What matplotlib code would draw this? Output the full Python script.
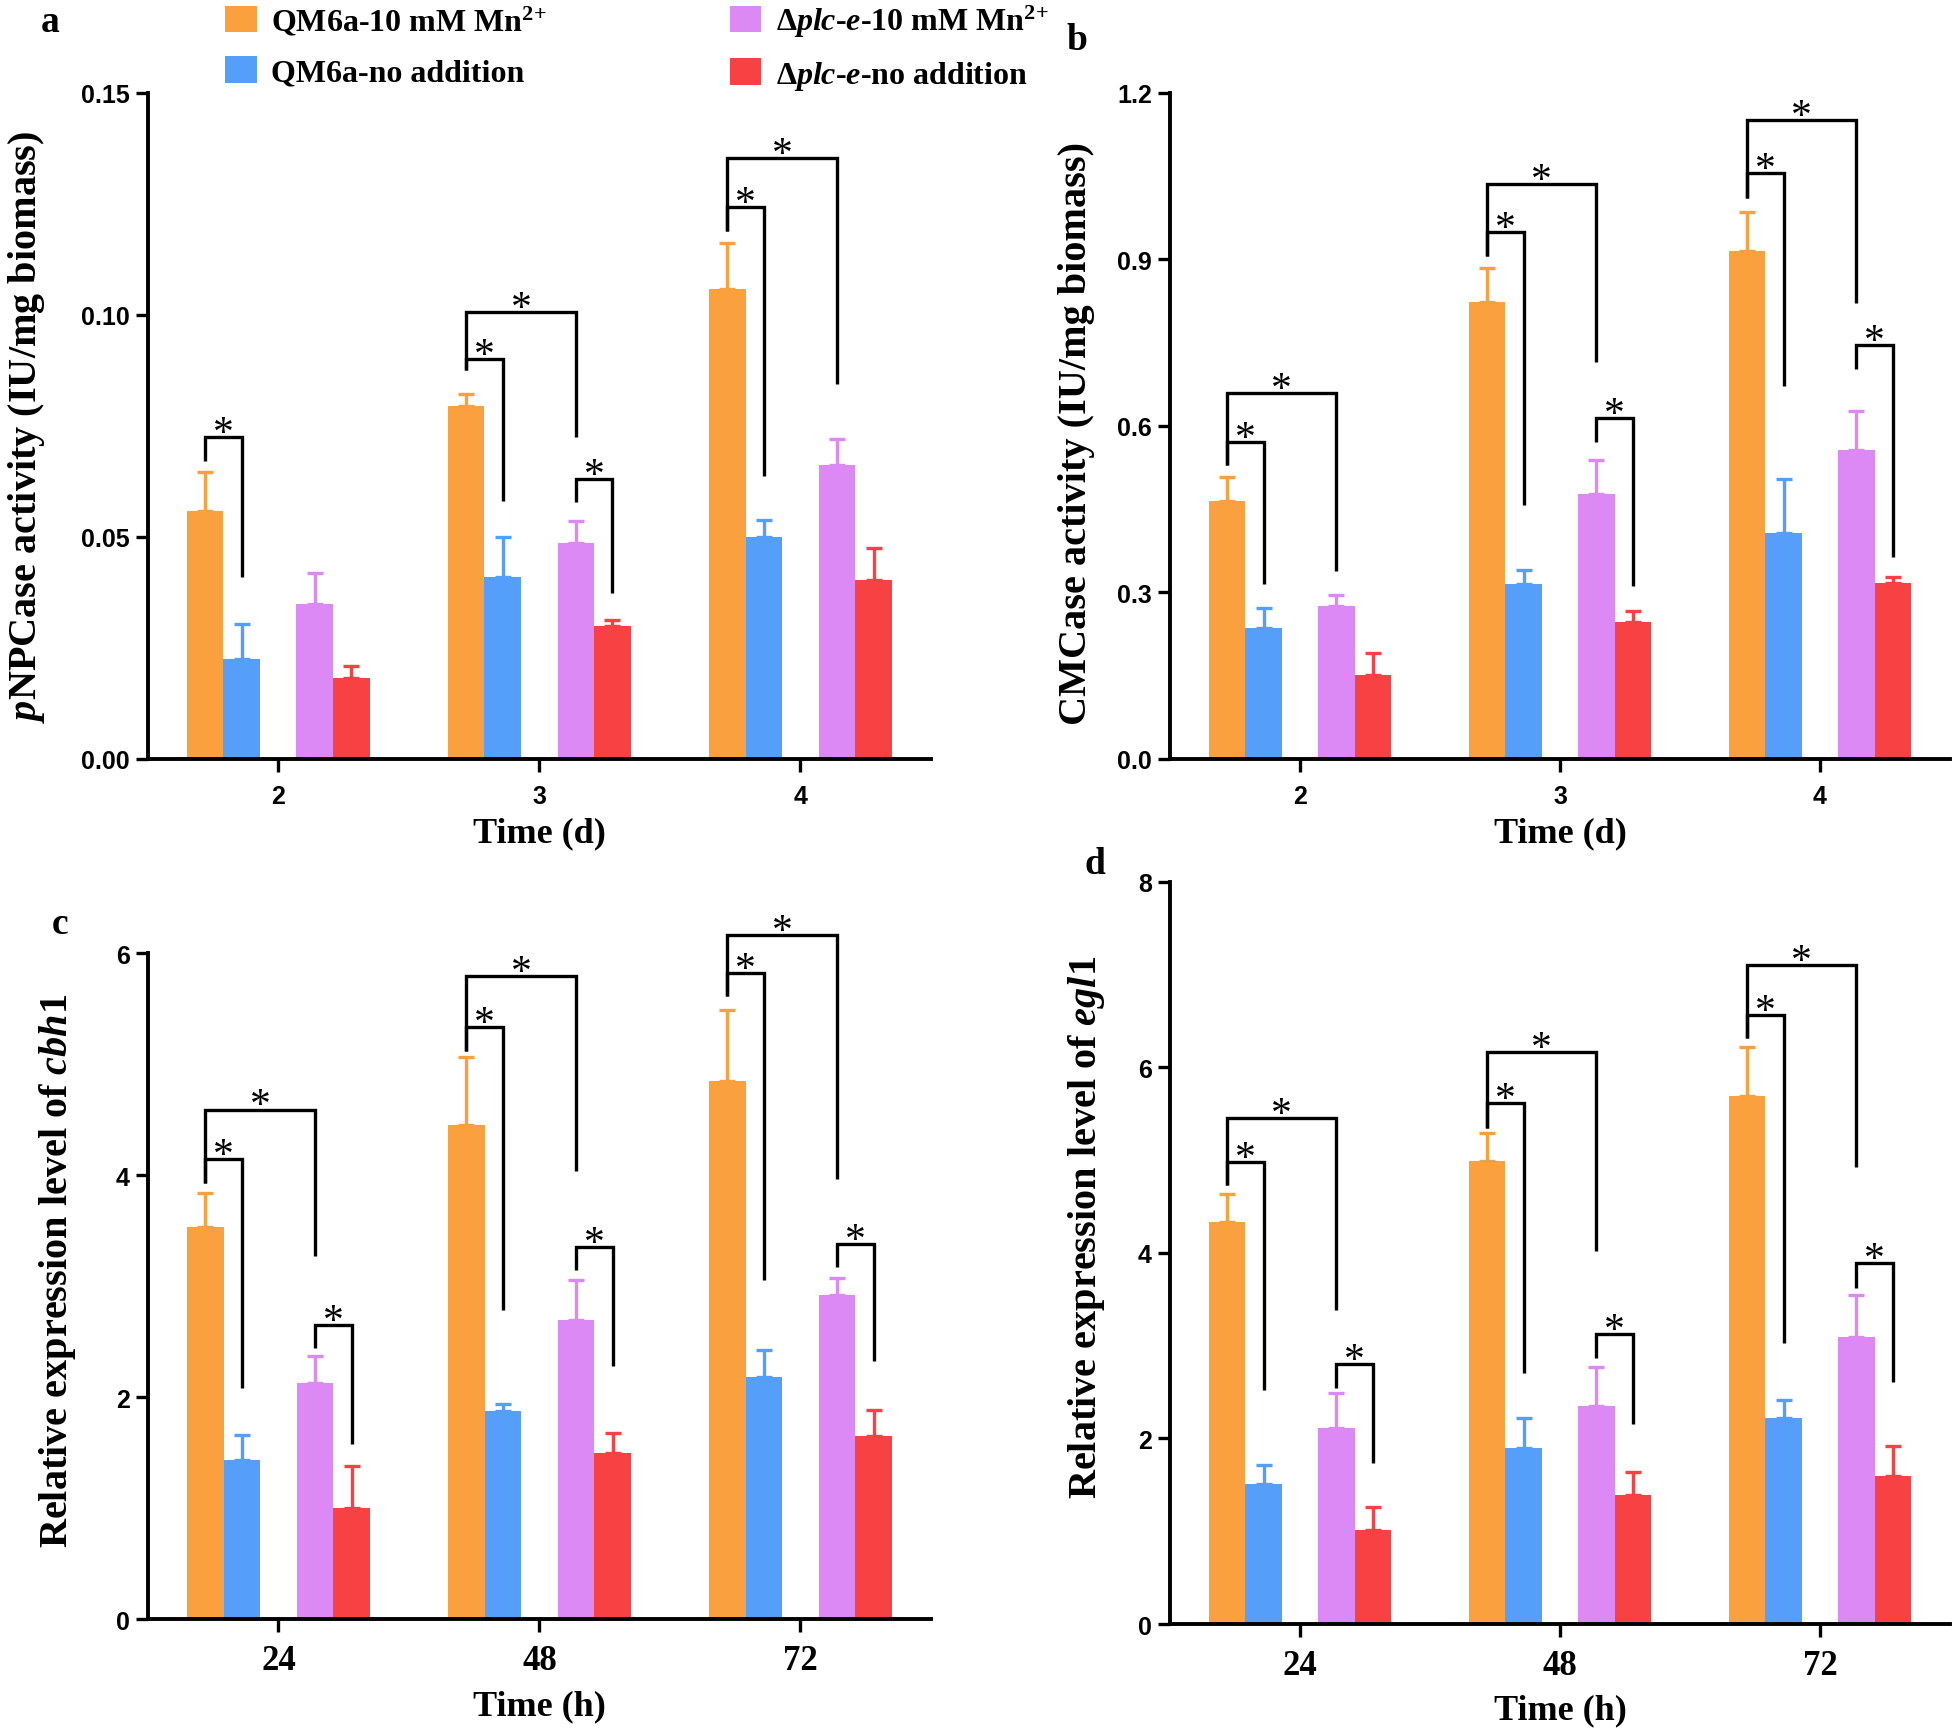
import numpy as np
import matplotlib
matplotlib.use("Agg")
import matplotlib.pyplot as plt
from matplotlib.patches import Patch

plt.rcParams['mathtext.fontset'] = 'custom'
plt.rcParams['mathtext.rm'] = 'Liberation Serif:bold'
plt.rcParams['mathtext.it'] = 'Liberation Serif:italic:bold'
plt.rcParams['mathtext.bf'] = 'Liberation Serif:bold'

# ---------------- data ----------------
series_labels = ["QM6a-10 mM Mn$^{2\\!+}$", "QM6a-no addition",
                 "Δ$\\mathit{plc}$-$\\mathit{e}$-10 mM Mn$^{2\\!+}$",
                 "Δ$\\mathit{plc}$-$\\mathit{e}$-no addition"]
series_colors = ["#FBA03F", "#559FFA", "#DC89F5", "#F84143"]

days = ["2", "3", "4"]
hours = ["24", "48", "72"]

# panel a: pNPCase activity
a_orange = [0.0558, 0.0796, 0.1058]; a_orange_err = [0.0088, 0.0026, 0.0103]
a_blue = [0.0226, 0.0409, 0.0499];   a_blue_err = [0.0079, 0.0090, 0.0038]
a_purple = [0.0349, 0.0487, 0.0662]; a_purple_err = [0.0069, 0.0049, 0.0058]
a_red = [0.0182, 0.0300, 0.0402];    a_red_err = [0.0028, 0.0013, 0.0073]

# panel b: CMCase activity
b_orange = [0.465, 0.824, 0.916]; b_orange_err = [0.043, 0.060, 0.070]
b_blue = [0.236, 0.315, 0.407];   b_blue_err = [0.036, 0.026, 0.098]
b_purple = [0.276, 0.478, 0.556]; b_purple_err = [0.020, 0.061, 0.071]
b_red = [0.151, 0.247, 0.317];    b_red_err = [0.040, 0.019, 0.011]

# panel c: cbh1 expression
c_orange = [3.53, 4.45, 4.85]; c_orange_err = [0.31, 0.61, 0.64]
c_blue = [1.43, 1.87, 2.18];   c_blue_err = [0.23, 0.07, 0.24]
c_purple = [2.13, 2.69, 2.92]; c_purple_err = [0.24, 0.36, 0.15]
c_red = [1.00, 1.50, 1.65];    c_red_err = [0.38, 0.18, 0.23]

# panel d: egl1 expression
d_orange = [4.33, 4.99, 5.69]; d_orange_err = [0.30, 0.30, 0.53]
d_blue = [1.51, 1.90, 2.22];   d_blue_err = [0.20, 0.32, 0.19]
d_purple = [2.11, 2.35, 3.09]; d_purple_err = [0.38, 0.42, 0.46]
d_red = [1.01, 1.39, 1.59];    d_red_err = [0.25, 0.25, 0.33]

# significance brackets: (group, series i, series j, top, left leg end, right leg end)
a_brackets = [(0, 0, 1, 0.0724, 0.0672, 0.0409),
              (1, 0, 1, 0.0900, 0.0876, 0.0581),
              (1, 0, 2, 0.1006, 0.0876, 0.0724),
              (1, 2, 3, 0.0630, 0.0578, 0.0374),
              (2, 0, 1, 0.1242, 0.1189, 0.0638),
              (2, 0, 2, 0.1353, 0.1189, 0.0844)]
b_brackets = [(0, 0, 1, 0.571, 0.529, 0.315),
              (0, 0, 2, 0.659, 0.529, 0.339),
              (1, 0, 1, 0.950, 0.907, 0.457),
              (1, 0, 2, 1.036, 0.907, 0.715),
              (1, 2, 3, 0.614, 0.571, 0.312),
              (2, 0, 1, 1.055, 1.011, 0.672),
              (2, 0, 2, 1.152, 1.011, 0.821),
              (2, 2, 3, 0.745, 0.703, 0.364)]
c_brackets = [(0, 0, 1, 4.14, 3.93, 2.08),
              (0, 0, 2, 4.59, 3.93, 3.27),
              (0, 2, 3, 2.65, 2.44, 1.58),
              (1, 0, 1, 5.33, 5.12, 2.78),
              (1, 0, 2, 5.79, 5.12, 4.04),
              (1, 2, 3, 3.35, 3.14, 2.28),
              (2, 0, 1, 5.82, 5.61, 3.05),
              (2, 0, 2, 6.16, 5.61, 3.96),
              (2, 2, 3, 3.38, 3.17, 2.32)]
d_brackets = [(0, 0, 1, 4.98, 4.73, 2.52),
              (0, 0, 2, 5.45, 4.73, 3.38),
              (0, 2, 3, 2.80, 2.54, 1.73),
              (1, 0, 1, 5.61, 5.34, 2.71),
              (1, 0, 2, 6.16, 5.34, 4.02),
              (1, 2, 3, 3.12, 2.87, 2.16),
              (2, 0, 1, 6.56, 6.31, 3.03),
              (2, 0, 2, 7.10, 6.31, 4.92),
              (2, 2, 3, 3.89, 3.62, 2.61)]

SERIF = "Liberation Serif"
SANS = "Liberation Sans"
W = 0.14
OFFS = [-2 * W, -W, W, 2 * W]
LW = 2.4

fig = plt.figure(figsize=(19.6, 17.33), dpi=100)


def panel(rect, cats, means, errs, brackets, ylim, yticks, yticklabels,
          ylabel, xlabel, xtick_font, xtick_size, ylabel_xy, xlabel_y):
    ax = fig.add_axes(rect)
    x = np.arange(len(cats))
    for k in range(4):
        xs = x + OFFS[k]
        ax.bar(xs, means[k], width=W, color=series_colors[k], linewidth=0, zorder=2)
        ax.errorbar(xs, means[k], yerr=[np.zeros(len(cats)), errs[k]], fmt='none',
                    ecolor=series_colors[k], elinewidth=LW, capsize=6,
                    capthick=LW, zorder=1)
    for (g, i, j, top, lb, rb) in brackets:
        x1 = g + OFFS[i]
        x2 = g + OFFS[j]
        ax.plot([x1, x1, x2, x2], [lb, top, top, rb], color='black', lw=LW,
                clip_on=False, solid_joinstyle='miter', solid_capstyle='butt', zorder=3)
        ax.annotate('*', xy=((x1 + x2) / 2, top), xytext=(0, -5),
                    textcoords='offset points', ha='center', va='baseline',
                    fontsize=30, family=SERIF, annotation_clip=False)
    ax.set_xlim(-0.5, len(cats) - 0.5)
    ax.set_ylim(*ylim)
    ax.set_xticks(x)
    ax.set_xticklabels(cats, fontsize=xtick_size, fontweight='bold', family=xtick_font)
    ax.set_yticks(yticks)
    ax.set_yticklabels(yticklabels, fontsize=18, fontweight='bold', family=SANS)
    for s in ['top', 'right']:
        ax.spines[s].set_visible(False)
    for s in ['left', 'bottom']:
        ax.spines[s].set_linewidth(LW + 0.4)
    ax.tick_params(axis='both', direction='out', length=9, width=LW)
    ax.tick_params(axis='y', pad=4)
    ax.tick_params(axis='x', pad=9)
    ax.set_ylabel(ylabel, fontsize=29, fontweight='bold', family=SERIF)
    ax.yaxis.set_label_coords(*ylabel_xy)
    ax.set_xlabel(xlabel, fontsize=26, fontweight='bold', family=SERIF)
    ax.xaxis.set_label_coords(0.5, xlabel_y)
    return ax


panel([0.0753, 0.5615, 0.3997, 0.3843], days,
      [a_orange, a_blue, a_purple, a_red],
      [a_orange_err, a_blue_err, a_purple_err, a_red_err], a_brackets,
      (0, 0.15), [0, 0.05, 0.10, 0.15], ["0.00", "0.05", "0.10", "0.15"],
      "$\\mathit{p}$NPCase activity (IU/mg biomass)", "Time (d)", SANS, 18,
      (-0.128, 0.5), -0.086)

panel([0.5969, 0.5615, 0.398, 0.3843], days,
      [b_orange, b_blue, b_purple, b_red],
      [b_orange_err, b_blue_err, b_purple_err, b_red_err], b_brackets,
      (0, 1.2), [0, 0.3, 0.6, 0.9, 1.2], ["0.0", "0.3", "0.6", "0.9", "1.2"],
      "CMCase activity (IU/mg biomass)", "Time (d)", SANS, 18,
      (-0.096, 0.49), -0.086)

panel([0.0755, 0.0652, 0.3995, 0.3843], hours,
      [c_orange, c_blue, c_purple, c_red],
      [c_orange_err, c_blue_err, c_purple_err, c_red_err], c_brackets,
      (0, 6), [0, 2, 4, 6], ["0", "2", "4", "6"],
      "Relative expression level of $\\mathit{cbh1}$", "Time (h)", SERIF, 25,
      (-0.089, 0.525), -0.105)

panel([0.5969, 0.0623, 0.398, 0.4284], hours,
      [d_orange, d_blue, d_purple, d_red],
      [d_orange_err, d_blue_err, d_purple_err, d_red_err], d_brackets,
      (0, 8), [0, 2, 4, 6, 8], ["0", "2", "4", "6", "8"],
      "Relative expression level of $\\mathit{egl1}$", "Time (h)", SERIF, 25,
      (-0.081, 0.535), -0.093)

# panel letters
for letter, (px, py) in zip("abcd", [(50, 22), (1077, 40), (60, 925), (1095, 865)]):
    fig.text(px / 1960, 1 - py / 1733, letter, fontsize=27, fontweight='bold',
             family=SERIF, ha='center', va='center')

handles = [Patch(facecolor=c, edgecolor='none') for c in series_colors]
leg = fig.legend(handles, series_labels, loc='upper left',
                 bbox_to_anchor=(225 / 1960, 1 - 4 / 1733), ncol=2, frameon=False,
                 borderpad=0, borderaxespad=0, handlelength=1.0, handleheight=0.9,
                 handletextpad=0.45, columnspacing=5.7, labelspacing=0.6,
                 prop={'family': SERIF, 'weight': 'bold', 'size': 23})

fig.savefig("out.png", dpi=100)
